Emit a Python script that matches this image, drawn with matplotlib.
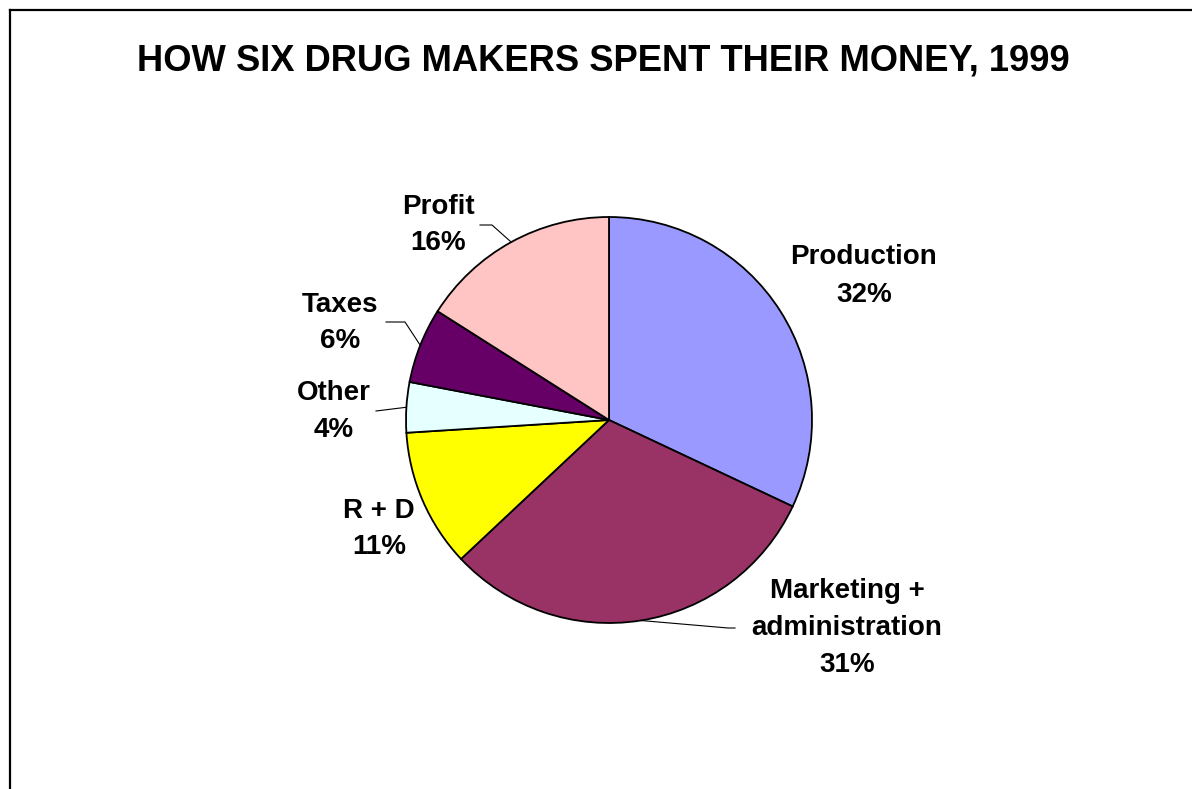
import numpy as np
import matplotlib
matplotlib.use("Agg")
import matplotlib.pyplot as plt
from matplotlib.lines import Line2D

plt.rcParams['font.family'] = ['Liberation Sans', 'DejaVu Sans']

# Spending shares, clockwise from 12 o'clock
categories = ["Production", "Marketing +\nadministration", "R + D", "Other", "Taxes", "Profit"]
shares = [32, 31, 11, 4, 6, 16]
colors = ["#9999FF", "#993366", "#FFFF00", "#E6FFFF", "#660066", "#FFC4C4"]
title = "HOW SIX DRUG MAKERS SPENT THEIR MONEY, 1999"

W, H = 1192, 789
fig = plt.figure(figsize=(W / 100, H / 100), dpi=100)
fig.patch.set_facecolor("white")


def fx(x, y):
    """Pixel position (from top-left) to figure fraction."""
    return x / W, 1 - y / H


# Pie axes: centre (609, 420), radius 203 px
cx, cy, r = 609, 420, 203
ax = fig.add_axes([(cx - r) / W, (H - cy - r) / H, 2 * r / W, 2 * r / H])
wedges, _ = ax.pie(shares, colors=colors, startangle=90, counterclock=False,
                   radius=1.0, center=(0, 0),
                   wedgeprops=dict(edgecolor="black", linewidth=1.3))
ax.set_xlim(-1, 1)
ax.set_ylim(-1, 1)
ax.set_aspect("auto")
ax.axis("off")

# Frame along the top and left edges
fig.add_artist(Line2D([9.5 / W, 1.0], [1 - 9.5 / H] * 2, color="black", lw=1.6,
                      transform=fig.transFigure))
fig.add_artist(Line2D([9.5 / W] * 2, [0, 1 - 9.5 / H], color="black", lw=1.6,
                      transform=fig.transFigure))

fig.text(*fx(603, 61), title, ha="center", va="center",
         fontsize=26.2, fontweight="bold")

# Label text positions (pixel centres) and optional leader elbows
label_pos = {
    "Production": (864, 276),
    "Marketing +\nadministration": (847, 628),
    "R + D": (379, 529),
    "Other": (334, 412),
    "Taxes": (340, 323),
    "Profit": (438, 225),
}
leaders = {
    "Marketing +\nadministration": [(735, 628), (728, 628)],
    "Other": [(376, 411)],
    "Taxes": [(386, 322), (405, 322)],
    "Profit": [(480, 225), (492, 225)],
}

angles = np.cumsum([0] + shares)
for i, (cat, val) in enumerate(zip(categories, shares)):
    x, y = label_pos[cat]
    fig.text(*fx(x, y), f"{cat}\n{val}%", ha="center", va="center",
             fontsize=20, fontweight="bold", linespacing=1.55)
    if cat in leaders:
        mid = 90 - 360 * (angles[i] + angles[i + 1]) / 2 / 100
        ex, ey = np.cos(np.radians(mid)), np.sin(np.radians(mid))
        edge = fig.transFigure.inverted().transform(ax.transData.transform((ex, ey)))
        pts = [fx(*p) for p in leaders[cat]] + [tuple(edge)]
        xs, ys = zip(*pts)
        fig.add_artist(Line2D(xs, ys, color="black", lw=0.8,
                              transform=fig.transFigure))

fig.savefig("out.png", dpi=100)
